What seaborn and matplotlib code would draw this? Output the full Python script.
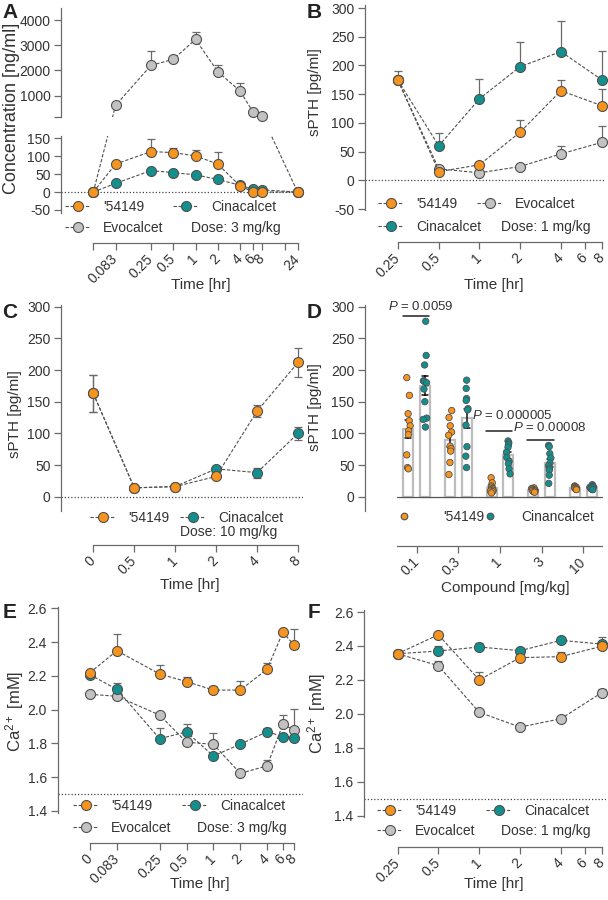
import numpy as np
import pandas as pd
import matplotlib
matplotlib.use("Agg")
import matplotlib.pyplot as plt
import seaborn as sns
from matplotlib.lines import Line2D

sns.set_theme(style="white")
plt.rcParams["font.family"] = ["Liberation Sans", "DejaVu Sans"]
plt.rcParams["mathtext.fontset"] = "custom"
plt.rcParams["mathtext.rm"] = "Liberation Sans"
plt.rcParams["mathtext.it"] = "Liberation Sans:italic"
plt.rcParams["mathtext.bf"] = "Liberation Sans:bold"
plt.rcParams["axes.unicode_minus"] = False
np.random.seed(7)

# ---------------- data ----------------
ZERO_LOG = 0.0415   # plotting position of t = 0 on the log time axes of A and E
ZERO_LOG_C = 0.25   # plotting position of t = 0 on the log time axis of C

# A: plasma concentration [ng/ml], 3 mg/kg
timesA = [0, 0.083, 0.25, 0.5, 1, 2, 4, 6, 8, 24]
concA_54149 = [0, 78, 113, 110, 101, 78, 17, 0, 0, 0]
semA_54149 = [0, 0, 36, 14, 16, 35, 2, 0, 0, 0]
concA_cina = [0, 24, 60, 54, 48, 35, 19, 7, 6, 0]
semA_cina = [0, 0, 0, 0, 0, 0, 0, 0, 0, 0]
concA_evo = [0, 617, 2202, 2440, 3232, 1951, 1185, 353, 181, 0]
semA_evo = [0, 145, 568, 0, 304, 264, 304, 0, 0, 0]
xticksA = [0, 0.083, 0.25, 0.5, 1, 2, 4, 6, 8, 16, 24]
xlabelsA = ["", "0.083", "0.25", "0.5", "1", "2", "4", "6", "8", "", "24"]

# B: sPTH [pg/ml], 1 mg/kg
timesB = [0.25, 0.5, 1, 2, 4, 8]
pthB_54149 = [174, 15, 27, 84, 156, 130]
semB_54149 = [17, 0, 0, 21, 19, 29]
pthB_cina = [174, 60, 142, 198, 224, 175]
semB_cina = [0, 22, 35, 42, 54, 50]
pthB_evo = [174, 20, 13, 24, 46, 66]
semB_evo = [0, 0, 0, 0, 14, 28]
xticksB = [0.25, 0.5, 1, 2, 4, 6, 8]
xlabelsB = ["0.25", "0.5", "1", "2", "4", "6", "8"]

# C: sPTH [pg/ml], 10 mg/kg
timesC = [0, 0.5, 1, 2, 4, 8]
pthC_54149 = [163, 14, 16, 32, 135, 212]
semC_54149 = [29, 2, 2, 3, 9, 23]
pthC_cina = [163, 14, 16, 44, 38, 100]
semC_cina = [29, 2, 2, 3, 8, 10]
xlabelsC = ["0", "0.5", "1", "2", "4", "8"]

# D: sPTH [pg/ml] by dose
dosesD = ["0.1", "0.3", "1", "3", "10"]
ptsD_54149 = [
    [188, 160, 131, 120, 112, 104, 98, 66, 46, 44],
    [136, 125, 112, 102, 97, 80, 76, 72, 54, 35],
    [30, 22, 17, 15, 13, 11, 10, 9, 8, 6],
    [14, 13, 12, 11, 10, 10, 9, 9, 8, 7],
    [17, 16, 15, 15, 14, 13, 12, 11],
]
ptsD_cina = [
    [277, 223, 208, 183, 182, 180, 170, 150, 124, 122, 110],
    [184, 171, 155, 152, 139, 137, 113, 79, 64, 46],
    [88, 85, 82, 78, 70, 62, 56, 52, 44, 36],
    [81, 79, 68, 61, 53, 49, 45, 42, 34, 21],
    [19, 17, 16, 15, 14, 13, 12, 11],
]
p_texts = ["0.0059", "0.000005", "0.00008"]
p_groups = [0, 2, 3]
p_line_y = [285, 104, 90]
p_text_y = [300, 128, 109]

# E: Ca2+ [mM], 3 mg/kg
timesE = [0, 0.083, 0.25, 0.5, 1, 2, 4, 6, 8]
caE_54149 = [2.219, 2.349, 2.211, 2.166, 2.116, 2.116, 2.239, 2.458, 2.383]
semE_54149 = [0, 0.099, 0.052, 0.029, 0.026, 0.052, 0.035, 0, 0.093]
caE_cina = [2.207, 2.120, 1.828, 1.868, 1.726, 1.795, 1.870, 1.840, 1.834]
semE_cina = [0, 0.036, 0.065, 0.045, 0, 0, 0.02, 0, 0]
caE_evo = [2.091, 2.079, 1.968, 1.807, 1.795, 1.623, 1.667, 1.913, 1.880]
semE_evo = [0, 0, 0, 0, 0.065, 0, 0.035, 0.055, 0.124]
xlabelsE = ["0", "0.083", "0.25", "0.5", "1", "2", "4", "6", "8"]

# F: Ca2+ [mM], 1 mg/kg
timesF = [0.25, 0.5, 1, 2, 4, 8]
caF_54149 = [2.354, 2.466, 2.20, 2.331, 2.337, 2.398]
semF_54149 = [0, 0, 0.045, 0, 0.027, 0]
caF_cina = [2.354, 2.370, 2.394, 2.372, 2.433, 2.411]
semF_cina = [0, 0.03, 0.026, 0.018, 0, 0.044]
caF_evo = [2.354, 2.284, 2.009, 1.922, 1.971, 2.125]
semF_evo = [0, 0.027, 0, 0, 0, 0.02]

# ---------------- style ----------------
ORANGE = "#F7941D"
TEAL = "#12908E"
GRAY = "#C2C2C2"
EDGE = "#505050"
ERR = "#6A6A6A"
TXT = "#333333"
SPINE = "#6A6A6A"
DASH = (0, (3, 1.6))
DOT = (0, (1, 1.6))
TICK_FS = 10
LAB_FS = 11

W, H = 608, 900
fig = plt.figure(figsize=(W / 100, H / 100), dpi=100)
fig.patch.set_facecolor("white")


def px_axes(l, t, r, b):
    return fig.add_axes([l / W, 1 - b / H, (r - l) / W, (b - t) / H])


def px_lr(ax):
    bb = ax.get_position()
    return bb.x0 * W, bb.x1 * W


def px_tb(ax):
    bb = ax.get_position()
    return (1 - bb.y1) * H, (1 - bb.y0) * H


def log_xlim(ax, v0, p0, v1, p1):
    left, right = px_lr(ax)
    k = (np.log(v1) - np.log(v0)) / (p1 - p0)
    ax.set_xscale("log")
    ax.set_xlim(np.exp(np.log(v0) - (p0 - left) * k), np.exp(np.log(v0) + (right - p0) * k))


def lin_xlim(ax, v0, p0, v1, p1):
    left, right = px_lr(ax)
    k = (v1 - v0) / (p1 - p0)
    ax.set_xlim(v0 + (left - p0) * k, v0 + (right - p0) * k)


def lin_ylim(ax, v0, p0, v1, p1):
    top, bottom = px_tb(ax)
    k = (v1 - v0) / (p1 - p0)
    ax.set_ylim(v0 + (bottom - p0) * k, v0 + (top - p0) * k)


def style(ax, xbounds=None, ybounds=None):
    ax.set_facecolor("none")
    ax.grid(False)
    for s in ["top", "right"]:
        ax.spines[s].set_visible(False)
    for s in ["left", "bottom"]:
        ax.spines[s].set_color(SPINE)
        ax.spines[s].set_linewidth(0.9)
    ax.tick_params(axis="both", which="major", length=5, width=0.9, color=SPINE,
                   labelsize=TICK_FS, labelcolor=TXT, pad=2.5, direction="out",
                   left=True, bottom=True)
    ax.minorticks_off()
    if xbounds is not None:
        ax.spines["bottom"].set_bounds(*xbounds)
    if ybounds is not None:
        ax.spines["left"].set_bounds(*ybounds)
    ax.set_xlabel("")
    ax.set_ylabel("")


def rotate_xlabels(ax):
    for lab in ax.get_xticklabels():
        lab.set_rotation(45)
        lab.set_ha("right")
        lab.set_va("center")
        lab.set_rotation_mode("anchor")
    ax.tick_params(axis="x", pad=5)


def tpos(t, zero):
    return zero if t == 0 else t


def series(ax, xs, ys, color, sem=None, sym=False, z=3, line=True):
    if sem is not None:
        lo = sem if sym else [0] * len(sem)
        ax.errorbar(xs, ys, yerr=[lo, sem], fmt="none", ecolor=ERR, elinewidth=0.9,
                    capsize=3, capthick=0.9, zorder=z - 0.5)
    df = pd.DataFrame({"x": xs, "y": ys})
    sns.lineplot(data=df, x="x", y="y", ax=ax, estimator=None, sort=False, color=EDGE,
                 linestyle=DASH if line else "none", linewidth=0.8, marker="o",
                 markersize=7.2, markerfacecolor=color, markeredgecolor=EDGE,
                 markeredgewidth=0.8, zorder=z, clip_on=False, legend=False)


def handle(color, line=True, ms=7.2):
    return Line2D([], [], color=EDGE, linestyle=DASH if line else "none", linewidth=0.8,
                  marker="o", markersize=ms, markerfacecolor=color,
                  markeredgecolor=EDGE, markeredgewidth=0.8)


def leg(h, label, x, y, hl=1.8, pad=0.95):
    fig.legend([h], [label], loc="center left", bbox_to_anchor=(x / W, 1 - y / H),
               frameon=False, fontsize=10, handlelength=hl, handletextpad=pad,
               borderpad=0, borderaxespad=0, labelcolor=TXT)


def ftext(x, y, s, **kw):
    kw.setdefault("color", TXT)
    kw.setdefault("va", "center")
    fig.text(x / W, 1 - y / H, s, **kw)


def panel_letter(x, y, s):
    ftext(x, y, s, fontsize=15, fontweight="bold", ha="center", color="#222222")


# ================= Panel A (broken axis) =================
axAt = px_axes(61, 8, 303, 117)
axAb = px_axes(61, 136, 303, 243)
for ax in (axAt, axAb):
    log_xlim(ax, ZERO_LOG, 93.3, 24, 297.6)
lin_ylim(axAt, 1000, 95.7, 4000, 20)
lin_ylim(axAb, 0, 192, 150, 138.3)

xA = [tpos(t, ZERO_LOG) for t in timesA]
split = axAt.get_ylim()[0]
on_top = [v > split for v in concA_evo]


def convert(ax_from, ax_to, x, y):
    d = ax_from.transData.transform((x, y))
    return ax_to.transData.inverted().transform(d)[1]


evo_in_top = [v if tp else convert(axAb, axAt, x, v) for x, v, tp in zip(xA, concA_evo, on_top)]
evo_in_bot = [convert(axAt, axAb, x, v) if tp else v for x, v, tp in zip(xA, concA_evo, on_top)]
for ax, ys in ((axAt, evo_in_top), (axAb, evo_in_bot)):
    sns.lineplot(x=xA, y=ys, ax=ax, estimator=None, sort=False, color=EDGE, linestyle=DASH,
                 linewidth=0.8, zorder=2.5, legend=False)

idx_top = [i for i, tp in enumerate(on_top) if tp]
idx_bot = [i for i, tp in enumerate(on_top) if not tp]
series(axAt, [xA[i] for i in idx_top], [concA_evo[i] for i in idx_top], GRAY,
       sem=[semA_evo[i] for i in idx_top], z=3, line=False)
series(axAb, [xA[i] for i in idx_bot], [concA_evo[i] for i in idx_bot], GRAY, z=3, line=False)
series(axAb, xA, concA_cina, TEAL, sem=semA_cina, z=4)
series(axAb, xA, concA_54149, ORANGE, sem=semA_54149, z=5)
axAb.axhline(0, color="#444444", lw=0.9, ls=DOT, zorder=1)

style(axAt, ybounds=axAt.get_ylim())
axAt.spines["bottom"].set_visible(False)
axAt.tick_params(axis="x", bottom=False, labelbottom=False)
axAt.set_yticks([split, 1000, 2000, 3000, 4000], ["", "1000", "2000", "3000", "4000"])
axAt.set_xticks([])
style(axAb, xbounds=(ZERO_LOG, 24), ybounds=(-58, axAb.get_ylim()[1]))
axAb.set_yticks([-50, 0, 50, 100, 150])
axAb.set_xticks([tpos(t, ZERO_LOG) for t in xticksA], xlabelsA)
axAb.minorticks_off()
rotate_xlabels(axAb)

panel_letter(10, 13, "A")
ftext(12, 108, "Concentration [ng/ml]", rotation=90, ha="center", fontsize=13)
ftext(201, 285, "Time [hr]", ha="center", fontsize=LAB_FS)
leg(handle(ORANGE), "'54149", 65, 207)
leg(handle(TEAL), "Cinacalcet", 173, 207)
leg(handle(GRAY), "Evocalcet", 65, 228)
ftext(191, 228, "Dose: 3 mg/kg", fontsize=10)

# ================= Panel B =================
axB = px_axes(365, 5, 606, 242)
log_xlim(axB, 0.25, 398, 8, 601.7)
lin_ylim(axB, 0, 180.3, 300, 8)
series(axB, timesB, pthB_evo, GRAY, sem=semB_evo, z=3)
series(axB, timesB, pthB_cina, TEAL, sem=semB_cina, z=4)
series(axB, timesB, pthB_54149, ORANGE, sem=semB_54149, z=5)
axB.axhline(0, color="#444444", lw=0.9, ls=DOT, zorder=1)
style(axB, xbounds=(0.25, 8), ybounds=(-51, axB.get_ylim()[1]))
axB.set_yticks(range(-50, 301, 50))
axB.set_xticks(xticksB, xlabelsB)
axB.minorticks_off()
rotate_xlabels(axB)
panel_letter(314, 12, "B")
ftext(315, 92, "sPTH [pg/ml]", rotation=90, ha="center", fontsize=LAB_FS)
ftext(494, 285, "Time [hr]", ha="center", fontsize=LAB_FS)
leg(handle(ORANGE), "'54149", 378, 204)
leg(handle(GRAY), "Evocalcet", 477, 204)
leg(handle(TEAL), "Cinacalcet", 378, 227)
ftext(501, 227, "Dose: 1 mg/kg", fontsize=10)

# ================= Panel C =================
axC = px_axes(61, 305, 303, 545)
log_xlim(axC, ZERO_LOG_C, 93.3, 8, 298)
lin_ylim(axC, 0, 496.7, 300, 306.7)
xC = [tpos(t, ZERO_LOG_C) for t in timesC]
series(axC, xC, pthC_cina, TEAL, sem=semC_cina, sym=True, z=4)
series(axC, xC, pthC_54149, ORANGE, sem=semC_54149, sym=True, z=5)
axC.axhline(0, color="#444444", lw=0.9, ls=DOT, zorder=1)
style(axC, xbounds=(ZERO_LOG_C, 8), ybounds=(-23, axC.get_ylim()[1]))
axC.set_yticks(range(0, 301, 50))
axC.set_xticks(xC, xlabelsC)
axC.minorticks_off()
rotate_xlabels(axC)
panel_letter(10, 313, "C")
ftext(15, 414, "sPTH [pg/ml]", rotation=90, ha="center", fontsize=LAB_FS)
ftext(190, 585, "Time [hr]", ha="center", fontsize=LAB_FS)
leg(handle(ORANGE), "'54149", 90, 518)
leg(handle(TEAL), "Cinacalcet", 180, 518)
ftext(180, 532, "Dose: 10 mg/kg", fontsize=10)

# ================= Panel D =================
axD = px_axes(365, 305, 606, 546)
rows = []
for comp, groups in (("'54149", ptsD_54149), ("Cinacalcet", ptsD_cina)):
    for dose, vals in zip(dosesD, groups):
        for v in vals:
            rows.append({"dose": dose, "compound": comp, "value": v})
dfD = pd.DataFrame(rows)
hue_order = ["'54149", "Cinacalcet"]
sns.barplot(data=dfD, x="dose", y="value", hue="compound", order=dosesD, hue_order=hue_order,
            palette={"'54149": "white", "Cinacalcet": "white"}, edgecolor="#BDBDBD",
            linewidth=1.6, errorbar="se", capsize=0.3,
            err_kws={"color": "#111111", "linewidth": 1.1}, width=0.8, gap=0.4,
            ax=axD, legend=False)
sns.stripplot(data=dfD, x="dose", y="value", hue="compound", order=dosesD, hue_order=hue_order,
              palette={"'54149": ORANGE, "Cinacalcet": TEAL}, dodge=True, jitter=0.09,
              size=4.6, edgecolor=EDGE, linewidth=0.6, ax=axD, legend=False)
lin_xlim(axD, 0, 416.7, 4, 583.3)
lin_ylim(axD, 0, 496.7, 300, 306.7)
xb = (-0.47, 4.46)
x0, x1 = axD.get_xlim()
axD.axhline(0, xmin=(xb[0] - x0) / (x1 - x0), xmax=(xb[1] - x0) / (x1 - x0),
            color="#555555", lw=0.9, zorder=1.5)
for txt, g, ly, ty in zip(p_texts, p_groups, p_line_y, p_text_y):
    axD.plot([g - 0.34, g + 0.29], [ly, ly], color="#222222", lw=1.1)
    axD.text(g - 0.68, ty, r"$\it{P}$ = " + txt, fontsize=9.5, color=TXT, ha="left", va="center")
style(axD, xbounds=xb, ybounds=(-23, axD.get_ylim()[1]))
axD.set_yticks(range(0, 301, 50))
axD.set_xticks(range(len(dosesD)), dosesD)
rotate_xlabels(axD)
panel_letter(314, 313, "D")
ftext(315, 407, "sPTH [pg/ml]", rotation=90, ha="center", fontsize=LAB_FS)
ftext(505, 588, "Compound [mg/kg]", ha="center", fontsize=LAB_FS)
leg(handle(ORANGE, line=False, ms=4.8), "'54149", 397, 517, hl=1.0, pad=2.3)
leg(handle(TEAL, line=False, ms=4.8), "Cinancalcet", 483, 517, hl=1.0, pad=1.75)

# ================= Panel E =================
axE = px_axes(57.5, 605, 303, 843)
log_xlim(axE, ZERO_LOG, 90, 8, 294)
lin_ylim(axE, 1.4, 811, 2.6, 608.3)
xE = [tpos(t, ZERO_LOG) for t in timesE]
series(axE, xE, caE_evo, GRAY, sem=semE_evo, z=3)
series(axE, xE, caE_cina, TEAL, sem=semE_cina, z=4)
series(axE, xE, caE_54149, ORANGE, sem=semE_54149, z=5)
axE.axhline(1.5, color="#444444", lw=0.9, ls=DOT, zorder=1)
style(axE, xbounds=(ZERO_LOG, 8), ybounds=(1.39, 2.61))
axE.set_yticks([1.4, 1.6, 1.8, 2.0, 2.2, 2.4, 2.6], ["1.4", "1.6", "1.8", "2.0", "2.2", "2.4", "2.6"])
axE.set_xticks(xE, xlabelsE)
axE.minorticks_off()
rotate_xlabels(axE)
panel_letter(10, 613, "E")
ftext(15, 711, r"Ca$^{2+}$ [mM]", rotation=90, ha="center", fontsize=12)
ftext(200, 884, "Time [hr]", ha="center", fontsize=LAB_FS)
leg(handle(ORANGE), "'54149", 73, 806)
leg(handle(TEAL), "Cinacalcet", 182, 806)
leg(handle(GRAY), "Evocalcet", 73, 828)
ftext(197, 828, "Dose: 3 mg/kg", fontsize=10)

# ================= Panel F =================
axF = px_axes(364, 608, 606, 847)
log_xlim(axF, 0.25, 397.5, 8, 601.7)
lin_ylim(axF, 1.4, 815.7, 2.6, 612)
series(axF, timesF, caF_evo, GRAY, sem=semF_evo, z=3)
series(axF, timesF, caF_cina, TEAL, sem=semF_cina, z=4)
series(axF, timesF, caF_54149, ORANGE, sem=semF_54149, z=5)
axF.axhline(1.5, color="#444444", lw=0.9, ls=DOT, zorder=1)
style(axF, xbounds=(0.25, 8), ybounds=(1.39, 2.61))
axF.set_yticks([1.4, 1.6, 1.8, 2.0, 2.2, 2.4, 2.6], ["1.4", "1.6", "1.8", "2.0", "2.2", "2.4", "2.6"])
axF.set_xticks(xticksB, xlabelsB)
axF.minorticks_off()
rotate_xlabels(axF)
panel_letter(314, 613, "F")
ftext(317, 713, r"Ca$^{2+}$ [mM]", rotation=90, ha="center", fontsize=12)
ftext(494, 884, "Time [hr]", ha="center", fontsize=LAB_FS)
leg(handle(ORANGE), "'54149", 377, 811)
leg(handle(TEAL), "Cinacalcet", 486, 811)
leg(handle(GRAY), "Evocalcet", 377, 831)
ftext(501, 831, "Dose: 1 mg/kg", fontsize=10)

fig.savefig("out.png", dpi=100)
